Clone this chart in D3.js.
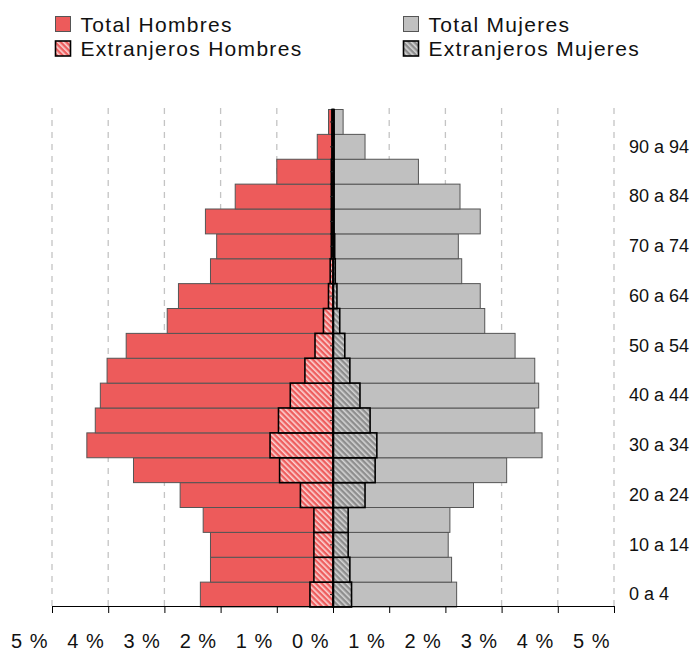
<!DOCTYPE html>
<html>
<head>
<meta charset="utf-8">
<script src="https://cdn.jsdelivr.net/npm/d3@7"></script>
<style>
    body { margin: 0; background: #fff; }
    svg { display: block; font-family: "Liberation Sans", Arial, sans-serif; }
</style>
</head>
<body>
<div id="pyramid"></div>
<script>
var width = 691;
var height = 651;

// grupos de edad, de abajo (0 a 4) hacia arriba
var ages = ["0 a 4", "5 a 9", "10 a 14", "15 a 19", "20 a 24", "25 a 29", "30 a 34", "35 a 39",
    "40 a 44", "45 a 49", "50 a 54", "55 a 59", "60 a 64", "65 a 69", "70 a 74", "75 a 79",
    "80 a 84", "85 a 89", "90 a 94", "95 y más"];

// porcentajes sobre la población total
var totalHombres = [2.36, 2.18, 2.18, 2.31, 2.72, 3.55, 4.38, 4.23, 4.14, 4.02,
    3.68, 2.95, 2.75, 2.18, 2.07, 2.27, 1.74, 1.00, 0.28, 0.08];
var totalMujeres = [2.20, 2.11, 2.05, 2.08, 2.50, 3.09, 3.72, 3.59, 3.66, 3.59,
    3.24, 2.70, 2.62, 2.29, 2.23, 2.62, 2.26, 1.52, 0.57, 0.18];
var extranjerosHombres = [0.41, 0.34, 0.34, 0.34, 0.58, 0.95, 1.12, 0.97, 0.76, 0.50,
    0.32, 0.17, 0.08, 0.05, 0.03, 0.03, 0.03, 0.03, 0.02, 0.02];
var extranjerosMujeres = [0.33, 0.30, 0.27, 0.27, 0.57, 0.75, 0.78, 0.66, 0.48, 0.30,
    0.21, 0.12, 0.07, 0.04, 0.03, 0.02, 0.02, 0.02, 0.02, 0.02];

var tickValues = [-5, -4, -3, -2, -1, 0, 1, 2, 3, 4, 5];
var tickLabels = ["5 %", "4 %", "3 %", "2 %", "1 %", "0 %", "1 %", "2 %", "3 %", "4 %", "5 %"];

var legendItems = [
    {name: "Total Hombres", fill: "#ED5B5B", stroke: "#555", col: 0, row: 0},
    {name: "Extranjeros Hombres", fill: "url(#hatchH)", stroke: "#000", col: 0, row: 1},
    {name: "Total Mujeres", fill: "#C0C0C0", stroke: "#555", col: 1, row: 0},
    {name: "Extranjeros Mujeres", fill: "url(#hatchM)", stroke: "#000", col: 1, row: 1}
];

var rows = ages.map(function(a, i){
    return {
        age: a,
        th: totalHombres[i],
        tm: totalMujeres[i],
        eh: extranjerosHombres[i],
        em: extranjerosMujeres[i]
    };
});

var svg = d3.select("#pyramid")
    .append("svg")
    .attr("width", width)
    .attr("height", height);

// tramas rayadas para extranjeros
var defs = svg.append("defs");
function hatch(id, base, stripe){
    var p = defs.append("pattern")
        .attr("id", id)
        .attr("patternUnits", "userSpaceOnUse")
        .attr("width", 4)
        .attr("height", 4)
        .attr("patternTransform", "rotate(-45)");
    p.append("rect").attr("width", 4).attr("height", 4).attr("fill", base);
    p.append("rect").attr("width", 1.6).attr("height", 4).attr("fill", stripe);
}
hatch("hatchH", "#EE5E5E", "#FBD3D3");
hatch("hatchM", "#8E8E8E", "#D4D4D4");

var x = d3.scaleLinear().domain([-5, 5]).range([52, 614]);
var y = d3.scaleBand().domain(ages).range([607, 109.5]).padding(0);

// rejilla
svg.append("g")
    .selectAll("line")
    .data(tickValues.filter(function(d){ return d !== 0; }))
    .enter()
    .append("line")
    .attr("x1", function(d){ return x(d); })
    .attr("x2", function(d){ return x(d); })
    .attr("y1", 108)
    .attr("y2", 606)
    .attr("stroke", "#C4C4C4")
    .attr("stroke-width", 1.3)
    .attr("stroke-dasharray", "6,6");

// totales
var bars = svg.append("g");
bars.selectAll("rect.th")
    .data(rows)
    .enter()
    .append("rect")
    .attr("class", "th")
    .attr("x", function(d){ return x(-d.th); })
    .attr("y", function(d){ return y(d.age); })
    .attr("width", function(d){ return x(0) - x(-d.th); })
    .attr("height", y.bandwidth())
    .attr("fill", "#ED5B5B")
    .attr("stroke", "#555")
    .attr("stroke-width", 1);

bars.selectAll("rect.tm")
    .data(rows)
    .enter()
    .append("rect")
    .attr("class", "tm")
    .attr("x", x(0))
    .attr("y", function(d){ return y(d.age); })
    .attr("width", function(d){ return x(d.tm) - x(0); })
    .attr("height", y.bandwidth())
    .attr("fill", "#C0C0C0")
    .attr("stroke", "#555")
    .attr("stroke-width", 1);

// extranjeros
bars.selectAll("rect.eh")
    .data(rows)
    .enter()
    .append("rect")
    .attr("class", "eh")
    .attr("x", function(d){ return x(-d.eh); })
    .attr("y", function(d){ return y(d.age); })
    .attr("width", function(d){ return x(0) - x(-d.eh); })
    .attr("height", y.bandwidth())
    .attr("fill", "url(#hatchH)")
    .attr("stroke", "#000")
    .attr("stroke-width", 1.6);

bars.selectAll("rect.em")
    .data(rows)
    .enter()
    .append("rect")
    .attr("class", "em")
    .attr("x", x(0))
    .attr("y", function(d){ return y(d.age); })
    .attr("width", function(d){ return x(d.em) - x(0); })
    .attr("height", y.bandwidth())
    .attr("fill", "url(#hatchM)")
    .attr("stroke", "#000")
    .attr("stroke-width", 1.6);

// eje central
var centerAxis = svg.append("g")
    .attr("transform", "translate(" + x(0) + ",0)")
    .call(d3.axisLeft(y).tickSize(3).tickSizeOuter(0).tickFormat(""));
centerAxis.select(".domain").attr("stroke", "#000").attr("stroke-width", 1.6);
centerAxis.selectAll(".tick line").attr("stroke", "#222");

// etiquetas de edad a la derecha
var ageAxis = svg.append("g")
    .attr("transform", "translate(629,0)")
    .call(d3.axisRight(y).tickSize(0).tickPadding(0)
        .tickFormat(function(d, i){ return i % 2 === 0 ? d : ""; }));
ageAxis.select(".domain").remove();
ageAxis.selectAll("text")
    .attr("fill", "#111")
    .style("font-size", "18px")
    .style("font-family", "'Liberation Sans', Arial, sans-serif");

// eje horizontal
var xAxis = svg.append("g")
    .attr("transform", "translate(0,606)")
    .call(d3.axisBottom(x).tickValues(tickValues).tickSize(7).tickSizeOuter(0)
        .tickFormat(function(d, i){ return tickLabels[i]; }));
xAxis.select(".domain").attr("stroke", "#000");
xAxis.selectAll(".tick line").attr("stroke", "#000");
xAxis.selectAll("text")
    .attr("y", 42)
    .attr("dy", 0)
    .attr("x", -4)
    .attr("fill", "#111")
    .style("text-anchor", "end")
    .style("font-size", "20px")
    .style("letter-spacing", "1px")
    .style("font-family", "'Liberation Sans', Arial, sans-serif");

// leyenda
var legend = svg.append("g")
    .selectAll("g")
    .data(legendItems)
    .enter()
    .append("g")
    .attr("transform", function(d){
        return "translate(" + (d.col === 0 ? 55.5 : 403.5) + "," + (d.row === 0 ? 16.5 : 41) + ")";
    });
legend.append("rect")
    .attr("width", 15)
    .attr("height", 15)
    .attr("fill", function(d){ return d.fill; })
    .attr("stroke", function(d){ return d.stroke; })
    .attr("stroke-width", function(d){ return d.row === 1 ? 1.6 : 1; });
legend.append("text")
    .attr("x", 25)
    .attr("y", 15)
    .attr("fill", "#111")
    .style("font-size", "21px")
    .style("letter-spacing", "1.3px")
    .text(function(d){ return d.name; });
</script>
</body>
</html>
